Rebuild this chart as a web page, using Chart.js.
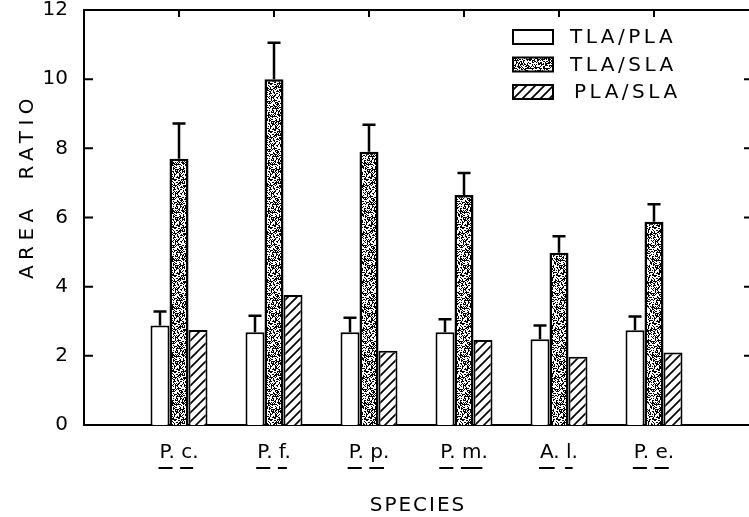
<!DOCTYPE html>
<html>
<head>
<meta charset="utf-8">
<script src="https://cdn.jsdelivr.net/npm/chart.js@4.4.0/dist/chart.umd.min.js"></script>
<style>
    html, body { margin: 0; padding: 0; background: #fff; }
    #wrap { width: 749px; height: 517px; }
</style>
</head>
<body>
<div id="wrap"><canvas id="ratioChart" width="749" height="517"></canvas></div>
<script>
// values
const species = ['P. c.', 'P. f.', 'P. p.', 'P. m.', 'A. l.', 'P. e.'];
const tlaPla = [2.88, 2.68, 2.68, 2.68, 2.48, 2.74];
const tlaPlaErr = [0.4, 0.48, 0.42, 0.38, 0.4, 0.4];
const tlaSla = [7.7, 10.0, 7.9, 6.65, 4.98, 5.88];
const tlaSlaErr = [1.02, 1.05, 0.78, 0.64, 0.48, 0.5];
const plaSla = [2.75, 3.76, 2.15, 2.46, 1.97, 2.1];
const yTicks = [0, 2, 4, 6, 8, 10, 12];

const FONT = '"DejaVu Sans", "Liberation Sans", sans-serif';

document.addEventListener('DOMContentLoaded', () => {
    // empty slot at each end so the groups sit in from the frame
    const pad = arr => [null, ...arr, null];
    const labels = pad(species).map(s => s || '');

    function stipplePattern() {
        const c = document.createElement('canvas');
        c.width = 48; c.height = 48;
        const g = c.getContext('2d');
        g.fillStyle = '#fff';
        g.fillRect(0, 0, 48, 48);
        g.fillStyle = '#000';
        let s = 12345;
        for (let i = 0; i < 1350; i++) {
            s = (s * 16807) % 2147483647;
            const px = s % 48;
            s = (s * 16807) % 2147483647;
            const py = s % 48;
            g.fillRect(px, py, 1, 1);
        }
        return g.createPattern(c, 'repeat');
    }

    function hatchPattern() {
        const n = 9;
        const c = document.createElement('canvas');
        c.width = n; c.height = n;
        const g = c.getContext('2d');
        g.fillStyle = '#fff';
        g.fillRect(0, 0, n, n);
        g.strokeStyle = '#000';
        g.lineWidth = 1.7;
        g.beginPath();
        g.moveTo(0, n); g.lineTo(n, 0);
        g.moveTo(-1, 1); g.lineTo(1, -1);
        g.moveTo(n - 1, n + 1); g.lineTo(n + 1, n - 1);
        g.stroke();
        return g.createPattern(c, 'repeat');
    }

    const fills = ['#fff', stipplePattern(), hatchPattern()];
    const errors = [pad(tlaPlaErr), pad(tlaSlaErr), null];

    // no extra room for half-labels at the ends of the axes
    const noEdgePad = scale => {
        scale.paddingTop = 0;
        scale.paddingBottom = 0;
        scale.paddingLeft = 0;
        scale.paddingRight = 0;
    };

    // frame ticks, error bars, underlines, titles and legend
    const extras = {
        id: 'extras',
        afterDatasetsDraw(chart) {
            const { ctx, chartArea: a, scales: { x, y } } = chart;
            ctx.save();
            ctx.strokeStyle = '#000';
            ctx.fillStyle = '#000';

            // error bars (upper half only)
            chart.data.datasets.forEach((ds, di) => {
                const errs = errors[di];
                if (!errs) return;
                chart.getDatasetMeta(di).data.forEach((bar, i) => {
                    if (ds.data[i] == null || errs[i] == null) return;
                    const yTop = y.getPixelForValue(ds.data[i] + errs[i]);
                    ctx.lineWidth = 2.5;
                    ctx.beginPath();
                    ctx.moveTo(bar.x, bar.y);
                    ctx.lineTo(bar.x, yTop);
                    ctx.moveTo(bar.x - 6.5, yTop);
                    ctx.lineTo(bar.x + 6.5, yTop);
                    ctx.stroke();
                });
            });

            // top line and inward ticks
            ctx.lineWidth = 2;
            ctx.beginPath();
            ctx.moveTo(a.left, a.top);
            ctx.lineTo(a.right, a.top);
            yTicks.forEach(v => {
                if (v === 0 || v === 12) return;
                const py = y.getPixelForValue(v);
                ctx.moveTo(a.left, py); ctx.lineTo(a.left + 9, py);
                ctx.moveTo(a.right - 5, py); ctx.lineTo(a.right, py);
            });
            species.forEach((s, i) => {
                const px = x.getPixelForValue(i + 1);
                ctx.moveTo(px, a.top); ctx.lineTo(px, a.top + 7);
            });
            ctx.stroke();

            // underline genus and species letters
            ctx.font = '20px ' + FONT;
            ctx.lineWidth = 2;
            species.forEach((s, i) => {
                const px = x.getPixelForValue(i + 1);
                const w = ctx.measureText(s).width;
                const start = px - w / 2;
                const parts = s.split(' ');
                const off2 = ctx.measureText(parts[0] + ' ').width;
                const uy = 468;
                ctx.beginPath();
                ctx.moveTo(start - 1, uy);
                ctx.lineTo(start + ctx.measureText(parts[0].replace('.', '')).width + 1, uy);
                ctx.moveTo(start + off2 - 1, uy);
                ctx.lineTo(start + off2 + ctx.measureText(parts[1].replace('.', '')).width + 1, uy);
                ctx.stroke();
            });

            // axis titles
            ctx.textAlign = 'center';
            ctx.textBaseline = 'middle';
            ctx.letterSpacing = '5.5px';
            ctx.font = '20px ' + FONT;
            ctx.save();
            ctx.translate(28, 189);
            ctx.rotate(-Math.PI / 2);
            ctx.fillText('AREA  RATIO', 3, 0);
            ctx.restore();

            ctx.letterSpacing = '2px';
            ctx.font = '20px ' + FONT;
            ctx.fillText('SPECIES', 418, 506);

            // legend
            ctx.letterSpacing = '3.5px';
            ctx.font = '20px ' + FONT;
            ctx.textAlign = 'left';
            chart.data.datasets.forEach((ds, di) => {
                const ly = 30 + di * 27.5;
                ctx.fillStyle = ds.backgroundColor;
                ctx.fillRect(513, ly, 40, 14);
                ctx.lineWidth = 2;
                ctx.strokeRect(513, ly, 40, 14);
                ctx.fillStyle = '#000';
                ctx.fillText(ds.label, 570 + (di === 2 ? 4 : 0), ly + 8);
            });
            ctx.restore();
        }
    };

    const ctx = document.getElementById('ratioChart').getContext('2d');
    new Chart(ctx, {
        type: 'bar',
        data: {
            labels: labels,
            datasets: [
                { label: 'TLA/PLA', data: pad(tlaPla) },
                { label: 'TLA/SLA', data: pad(tlaSla), borderWidth: 2.5 },
                { label: 'PLA/SLA', data: pad(plaSla) }
            ].map((ds, i) => Object.assign({
                backgroundColor: fills[i],
                borderColor: '#000',
                borderWidth: 2,
                categoryPercentage: 0.6,
                barPercentage: 1.0
            }, ds))
        },
        options: {
            responsive: false,
            animation: false,
            layout: { autoPadding: false, padding: { top: 10, left: 0, right: 0, bottom: 0 } },
            plugins: {
                legend: { display: false },
                tooltip: { enabled: false }
            },
            scales: {
                x: {
                    offset: false,
                    grid: { display: false },
                    border: { color: '#000', width: 2 },
                    ticks: {
                        color: '#000',
                        font: { family: FONT, size: 20 },
                        padding: 8,
                        maxRotation: 0,
                        autoSkip: false
                    },
                    afterFit: scale => { scale.height = 92; noEdgePad(scale); }
                },
                y: {
                    min: 0,
                    max: 12,
                    grid: { display: false },
                    border: { color: '#000', width: 2 },
                    afterBuildTicks: scale => {
                        scale.ticks = yTicks.map(v => ({ value: v }));
                    },
                    ticks: {
                        color: '#000',
                        font: { family: FONT, size: 20 },
                        padding: 8
                    },
                    afterFit: scale => { scale.width = 84; noEdgePad(scale); }
                }
            }
        },
        plugins: [extras]
    });
});
</script>
</body>
</html>
